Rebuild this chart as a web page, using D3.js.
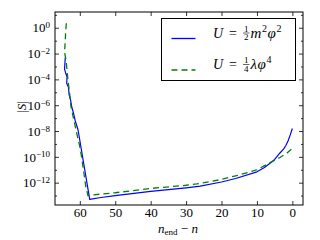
<!DOCTYPE html>
<html>
<head>
<meta charset="utf-8">
<script src="https://cdn.jsdelivr.net/npm/d3@7"></script>
<style>
  html, body { margin: 0; padding: 0; background: #fff; }
  svg { display: block; }
  text { font-family: "Liberation Serif", "DejaVu Serif", serif; fill: #000; }
</style>
</head>
<body>
<div id="chart"></div>
<script>
// |S| against n_end - n for two potentials (log10 values)

const quadN    = [64.1, 64.3, 64.0, 63.6, 63.7, 63.2, 63.0, 62.6, 62.3, 61.8, 61.3, 60.5, 57.2, 54, 50, 40, 30, 26, 20, 16, 10, 8, 6.3, 5, 3.5, 2.5, 1.8, 1.2, 0.6, 0];
const quadLogS = [-2.3, -3.2, -3.5, -3.8, -4.3, -4.6, -5.2, -5.6, -6.1, -6.6, -7.2, -7.9, -13.3, -13.15, -13.0, -12.68, -12.4, -12.27, -11.95, -11.68, -11.16, -10.85, -10.5, -10.2, -9.7, -9.4, -9.1, -8.75, -8.3, -7.8];

const quartN    = [63.8, 64.0, 64.1, 64.3, 63.9, 63.6, 63.3, 62.9, 62.5, 61.8, 61.0, 60.0, 59.5, 58.3, 57.7, 56.5, 50, 40, 30, 27, 20, 15, 10, 6.3, 3.5, 1.5, 0];
const quartLogS = [0.35, -0.3, -1.0, -1.9, -2.5, -3.3, -4.2, -5.0, -6.1, -7.0, -8.0, -9.2, -10.0, -12.3, -13.0, -12.95, -12.78, -12.45, -12.2, -12.1, -11.75, -11.4, -11.0, -10.45, -10.05, -9.7, -9.35];

const xTicks = [60, 50, 40, 30, 20, 10, 0];
const yMajorExp = [0, -2, -4, -6, -8, -10, -12];
const yMinorExp = [1, -1, -3, -5, -7, -9, -11, -13];

const W = 320, H = 240;
const M = { left: 55, right: 17, top: 12, bottom: 35 };

const svg = d3.select('#chart').append('svg')
  .attr('width', W).attr('height', H);

const x = d3.scaleLinear().domain([67, -3]).range([M.left, W - M.right]);
const y = d3.scaleLog().domain([Math.pow(10, -13.73), Math.pow(10, 1.22)]).range([H - M.bottom, M.top]);

const plotW = W - M.left - M.right;
const plotH = H - M.top - M.bottom;

// ─── Lines ────────────────────────────────────────────────────────────────────
const line = d3.line().x(d => x(d[0])).y(d => y(Math.pow(10, d[1])));

svg.append('defs').append('clipPath').attr('id', 'clip')
  .append('rect').attr('x', M.left).attr('y', M.top).attr('width', plotW).attr('height', plotH);

const plot = svg.append('g').attr('clip-path', 'url(#clip)');

plot.append('path')
  .datum(d3.zip(quadN, quadLogS))
  .attr('d', line)
  .attr('fill', 'none')
  .attr('stroke', '#0000ff')
  .attr('stroke-width', 1.2)
  .attr('stroke-linejoin', 'round');

plot.append('path')
  .datum(d3.zip(quartN, quartLogS))
  .attr('d', line)
  .attr('fill', 'none')
  .attr('stroke', '#008000')
  .attr('stroke-width', 1.3)
  .attr('stroke-dasharray', '6,4');

// ─── Axes (ticks pointing inward, all four sides) ─────────────────────────────
const yMajor = yMajorExp.map(e => Math.pow(10, e));
const yMinor = yMinorExp.map(e => Math.pow(10, e));

function styleAxis(g) {
  g.select('.domain').remove();
  g.selectAll('line').attr('stroke', '#000').attr('stroke-width', 0.8);
}

svg.append('g').attr('transform', `translate(0,${H - M.bottom})`)
  .call(d3.axisBottom(x).tickValues(xTicks).tickSize(-4).tickPadding(3).tickFormat(d3.format('d')))
  .call(styleAxis)
  .call(g => g.selectAll('text').attr('font-size', 13).attr('font-family', '"Liberation Serif", serif'));

svg.append('g').attr('transform', `translate(0,${M.top})`)
  .call(d3.axisTop(x).tickValues(xTicks).tickSize(-4).tickFormat(''))
  .call(styleAxis);

svg.append('g').attr('transform', `translate(${M.left},0)`)
  .call(d3.axisLeft(y).tickValues(yMajor).tickSize(-4).tickFormat(''))
  .call(styleAxis)
  .call(g => g.selectAll('.tick').append('text')
    .attr('x', -5).attr('dy', '0.32em')
    .attr('text-anchor', 'end')
    .attr('font-size', 13)
    .each(function(d) {
      const t = d3.select(this);
      const e = Math.round(Math.log10(d));
      t.append('tspan').text('10');
      t.append('tspan').attr('dy', '-0.45em').attr('font-size', 9)
        .text(e < 0 ? '\u2212' + (-e) : e);
    }));

svg.append('g').attr('transform', `translate(${M.left},0)`)
  .call(d3.axisLeft(y).tickValues(yMinor).tickSize(-2).tickFormat(''))
  .call(styleAxis);

svg.append('g').attr('transform', `translate(${W - M.right},0)`)
  .call(d3.axisRight(y).tickValues(yMajor).tickSize(-4).tickFormat(''))
  .call(styleAxis);

svg.append('g').attr('transform', `translate(${W - M.right},0)`)
  .call(d3.axisRight(y).tickValues(yMinor).tickSize(-2).tickFormat(''))
  .call(styleAxis);

// Frame
svg.append('rect')
  .attr('x', M.left).attr('y', M.top).attr('width', plotW).attr('height', plotH)
  .attr('fill', 'none').attr('stroke', '#000').attr('stroke-width', 1);

// ─── Axis labels ──────────────────────────────────────────────────────────────
const xl = svg.append('text')
  .attr('x', 178).attr('y', 233)
  .attr('text-anchor', 'middle')
  .attr('font-size', 13);
xl.append('tspan').attr('font-style', 'italic').text('n');
xl.append('tspan').attr('font-size', 9).attr('dy', 2).text('end');
xl.append('tspan').attr('dy', -2).text(' \u2212 ');
xl.append('tspan').attr('font-style', 'italic').text('n');

const yl = svg.append('text')
  .attr('transform', 'translate(26,107) rotate(-90)')
  .attr('text-anchor', 'middle')
  .attr('font-size', 13);
yl.append('tspan').text('|');
yl.append('tspan').attr('font-style', 'italic').text('S');
yl.append('tspan').text('|');

// ─── Legend ───────────────────────────────────────────────────────────────────
const legend = svg.append('g');
legend.append('rect')
  .attr('x', 161.5).attr('y', 18.5).attr('width', 134).attr('height', 62)
  .attr('fill', '#fff').attr('stroke', '#000').attr('stroke-width', 1);

const entries = [
  { color: '#0000ff', dash: null, yy: 38.5, num: '1', den: '2',
    parts: [['m', true, false], ['2', false, true], ['\u03c6', true, false], ['2', false, true]] },
  { color: '#008000', dash: '6,4', yy: 70, num: '1', den: '4',
    parts: [['\u03bb', true, false], ['\u03c6', true, false], ['4', false, true]] }
];

entries.forEach(en => {
  legend.append('line')
    .attr('x1', 171.5).attr('x2', 195.5).attr('y1', en.yy).attr('y2', en.yy)
    .attr('stroke', en.color).attr('stroke-width', 1.3)
    .attr('stroke-dasharray', en.dash);

  const base = en.yy - 1;
  legend.append('text').attr('x', 213).attr('y', base).attr('font-size', 14)
    .attr('font-style', 'italic').text('U');
  legend.append('text').attr('x', 233).attr('y', base).attr('font-size', 14)
    .attr('text-anchor', 'middle').text('=');

  // stacked fraction
  const cx = 243;
  legend.append('text').attr('x', cx + 3.2).attr('y', base - 6).attr('text-anchor', 'middle')
    .attr('font-size', 9).text(en.num);
  legend.append('line').attr('x1', cx).attr('x2', cx + 6.5).attr('y1', base - 4.5).attr('y2', base - 4.5)
    .attr('stroke', '#000').attr('stroke-width', 0.6);
  legend.append('text').attr('x', cx + 3.2).attr('y', base + 2.5).attr('text-anchor', 'middle')
    .attr('font-size', 9).text(en.den);

  const r = legend.append('text').attr('x', cx + 7.5).attr('y', base).attr('font-size', 15)
    .attr('letter-spacing', 0.6);
  let sup = false;
  en.parts.forEach(([s, it, isSup]) => {
    const ts = r.append('tspan').text(s);
    if (it) ts.attr('font-style', 'italic');
    if (isSup && !sup) { ts.attr('font-size', 10).attr('dy', -6); sup = true; }
    else if (!isSup && sup) { ts.attr('dy', 6); sup = false; }
    else if (isSup) ts.attr('font-size', 10);
  });
});
</script>
</body>
</html>
